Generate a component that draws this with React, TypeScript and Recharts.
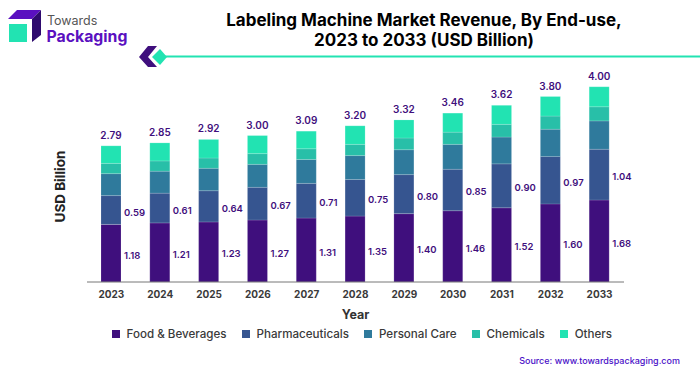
import React from "react";
import { BarChart, Bar, XAxis, YAxis, LabelList, Legend } from "recharts";

const years = ["2023", "2024", "2025", "2026", "2027", "2028", "2029", "2030", "2031", "2032", "2033"];
const food = [1.18, 1.21, 1.23, 1.27, 1.31, 1.35, 1.4, 1.46, 1.52, 1.6, 1.68];
const pharma = [0.59, 0.61, 0.64, 0.67, 0.71, 0.75, 0.8, 0.85, 0.9, 0.97, 1.04];
const personal = [0.45, 0.45, 0.46, 0.47, 0.49, 0.49, 0.51, 0.51, 0.55, 0.56, 0.58];
const chemicals = [0.21, 0.21, 0.21, 0.22, 0.22, 0.23, 0.24, 0.25, 0.26, 0.27, 0.29];
const others = [0.36, 0.37, 0.38, 0.37, 0.36, 0.38, 0.37, 0.39, 0.39, 0.4, 0.41];
const totals = [2.79, 2.85, 2.92, 3.0, 3.09, 3.2, 3.32, 3.46, 3.62, 3.8, 4.0];

const chartData = years.map((year, i) => ({
  year,
  food: food[i],
  pharma: pharma[i],
  personal: personal[i],
  chemicals: chemicals[i],
  others: others[i],
  total: totals[i],
}));

const FONT = "Inter, sans-serif";
const PURPLE = "#3f0f7d";
const barEdge = { stroke: "#ffffff", strokeOpacity: 0.25, strokeWidth: 0.6 };

const SideLabel = ({ x, y, width, height, value }: any) => (
  <text x={x + width + 3} y={y + height / 2 + 2} dominantBaseline="central" fill={PURPLE} fontFamily={FONT} fontSize={9.5} fontWeight={600}>
    {value.toFixed(2)}
  </text>
);

const TotalLabel = ({ x, y, width, index }: any) => (
  <text x={x + width / 2} y={y - 11} textAnchor="middle" dominantBaseline="central" fill={PURPLE} fontFamily={FONT} fontSize={10} fontWeight={600}>
    {totals[index].toFixed(2)}
  </text>
);

const ChartLegend = ({ payload }: any) => (
  <div style={{ display: "flex", paddingLeft: 112, fontFamily: FONT, fontSize: 11.6, fontWeight: 500, color: "#3a3a3a" }}>
    {(payload || []).map((item: any) => (
      <div key={item.value} style={{ display: "flex", alignItems: "center", marginRight: 15.5 }}>
        <span style={{ width: 8, height: 8, background: item.color, marginRight: 6.5 }} />
        {item.value}
      </div>
    ))}
  </div>
);

const Header = () => (
  <svg width={700} height={375} style={{ position: "absolute", left: 0, top: 0 }}>
    <polygon points="8,19 17,10 41,10 32,19" fill="#5a10c0" />
    <polygon points="32,19 41,10 41,35 32,42" fill="#2e0a6e" />
    <rect x={9} y={24} width={18} height={18} fill="#22e3b2" />
    <text x={47} y={25} fontFamily={FONT} fontSize={12.5} fill="#555555">Towards</text>
    <text x={46.5} y={42} fontFamily={FONT} fontSize={15.8} fontWeight={700} fill="#5a10c0">Packaging</text>
    <polygon points="139,57 148,46 157,46 148,57 157,67 148,67" fill="#3f0f7d" />
    <polygon points="152,57 160,49 167,57 160,65" fill="#22e3b2" />
    <line x1={165} y1={56.5} x2={700} y2={56.5} stroke="#22e3b2" strokeWidth={2} />
    <text textAnchor="middle" fontFamily={FONT} fontSize={17} fontWeight={700} fill="#000000">
      <tspan x={424} y={26}>Labeling Machine Market Revenue, By End-use,</tspan>
      <tspan x={424} y={46}>2023 to 2033 (USD Billion)</tspan>
    </text>
    <text x={680} y={364} textAnchor="end" fontFamily={FONT} fontSize={9} fontWeight={500} fill="#4a10c8">Source: www.towardspackaging.com</text>
  </svg>
);

export default function App() {
  return (
    <div style={{ position: "absolute", left: 0, top: 0, width: 700, height: 375, background: "#ffffff", overflow: "hidden" }}>
      <Header />
      <div style={{ position: "absolute", left: 0, top: 0 }}>
        <BarChart
          width={700}
          height={375}
          data={chartData}
          margin={{ top: 77, right: 76, bottom: 43, left: 0 }}
          barSize={20}
          style={{ background: "transparent" }}
        >
          <XAxis
            dataKey="year"
            tickLine={false}
            axisLine={{ stroke: "#777777", strokeWidth: 1 }}
            tick={{ fill: "#3a3a3a", fontFamily: FONT, fontSize: 10, fontWeight: 700 }}
            tickMargin={3}
            height={36}
            label={{ value: "Year", position: "insideBottom", offset: -1, fill: "#333333", fontFamily: FONT, fontSize: 12.5, fontWeight: 700 }}
          />
          <YAxis
            width={87}
            domain={[0, 4.2]}
            tick={false}
            axisLine={false}
            tickLine={false}
            label={{ value: "USD Billion", angle: -90, position: "insideLeft", dx: 55, dy: 43, fill: "#222222", fontFamily: FONT, fontSize: 13.5, fontWeight: 700 }}
          />
          <Legend
            content={<ChartLegend />}
            itemSorter={null}
            verticalAlign="bottom"
            wrapperStyle={{ left: 0, width: 700, top: 327 }}
          />
          <Bar dataKey="food" name="Food & Beverages" stackId="a" fill={PURPLE} isAnimationActive={false} {...barEdge}>
            <LabelList dataKey="food" content={<SideLabel />} />
          </Bar>
          <Bar dataKey="pharma" name="Pharmaceuticals" stackId="a" fill="#365590" isAnimationActive={false} {...barEdge}>
            <LabelList dataKey="pharma" content={<SideLabel />} />
          </Bar>
          <Bar dataKey="personal" name="Personal Care" stackId="a" fill="#2f7a9c" isAnimationActive={false} {...barEdge} />
          <Bar dataKey="chemicals" name="Chemicals" stackId="a" fill="#28bfa8" isAnimationActive={false} {...barEdge} />
          <Bar dataKey="others" name="Others" stackId="a" fill="#22e3b2" isAnimationActive={false} {...barEdge}>
            <LabelList dataKey="total" content={<TotalLabel />} />
          </Bar>
        </BarChart>
      </div>
    </div>
  );
}
